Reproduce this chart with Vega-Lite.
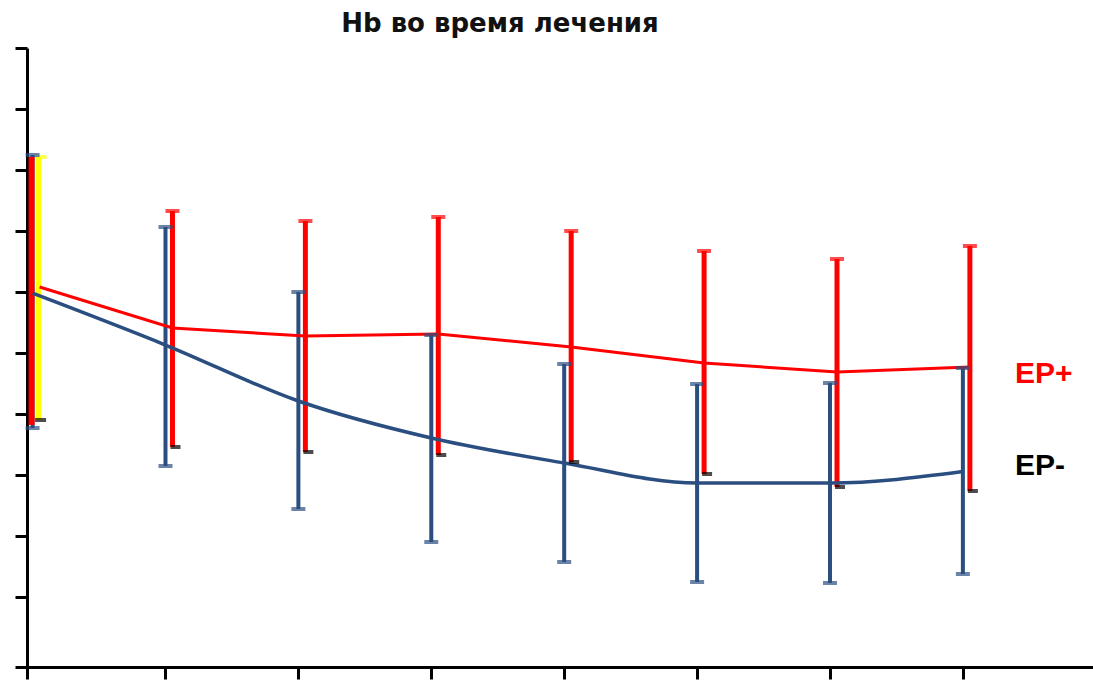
{
  "$schema": "https://vega.github.io/schema/vega-lite/v6.json",
  "width": 1066,
  "height": 619,
  "autosize": {"type": "none"},
  "padding": {"left": 27, "top": 48, "right": 0, "bottom": 13},
  "background": "white",
  "view": {"stroke": null},
  "title": {
    "text": "Hb во время лечения",
    "font": "DejaVu Sans",
    "fontSize": 26,
    "fontWeight": "bold",
    "color": "#111111",
    "anchor": "middle",
    "dx": -60,
    "baseline": "alphabetic",
    "offset": 17,
    "dy": 28
  },
  "config": {
    "axis": {
      "labels": false,
      "title": null,
      "grid": false,
      "domainColor": "black",
      "domainWidth": 3,
      "tickColor": "black",
      "tickWidth": 3,
      "tickSize": 12
    }
  },
  "datasets": {
    "blue": [
      {"t": 0, "mean": 4.98, "lo": 2.77, "hi": 7.246},
      {"t": 1, "mean": 4.131, "lo": 2.148, "hi": 6.066},
      {"t": 2, "mean": 3.213, "lo": 1.443, "hi": 5.0},
      {"t": 3, "mean": 2.607, "lo": 0.902, "hi": 4.295},
      {"t": 4, "mean": 2.197, "lo": 0.574, "hi": 3.82},
      {"t": 5, "mean": 1.869, "lo": 0.246, "hi": 3.492},
      {"t": 6, "mean": 1.869, "lo": 0.23, "hi": 3.508},
      {"t": 7, "mean": 2.057, "lo": 0.377, "hi": 3.754}
    ],
    "red": [
      {"t": 0, "mean": 5.082, "lo": 2.82, "hi": 7.213},
      {"t": 1, "mean": 4.41, "lo": 2.459, "hi": 6.328},
      {"t": 2, "mean": 4.279, "lo": 2.377, "hi": 6.164},
      {"t": 3, "mean": 4.311, "lo": 2.328, "hi": 6.23},
      {"t": 4, "mean": 4.098, "lo": 2.213, "hi": 6.0},
      {"t": 5, "mean": 3.836, "lo": 2.016, "hi": 5.672},
      {"t": 6, "mean": 3.689, "lo": 1.803, "hi": 5.541},
      {"t": 7, "mean": 3.77, "lo": 1.738, "hi": 5.754}
    ],
    "yellow": [
      {"t": 0, "lo": 2.902, "hi": 7.213}
    ],
    "labels": [
      {"t": 7, "label": "EP+", "series": "EP+", "v": 3.65},
      {"t": 7, "label": "EP-", "series": "EP-", "v": 2.15}
    ]
  },
  "layer": [
    {
      "data": {"name": "blue"},
      "mark": {"type": "rule", "color": "#2b4e80", "strokeWidth": 4},
      "encoding": {
        "x": {"field": "t", "type": "quantitative", "scale": {"domain": [-0.042, 7.979], "nice": false, "zero": false},
              "axis": {"values": [-0.042, 1, 2, 3, 4, 5, 6, 7]}},
        "y": {"field": "lo", "type": "quantitative", "scale": {"domain": [-1.1475, 9], "nice": false, "zero": false},
              "axis": {"values": [-1.1475, 0, 1, 2, 3, 4, 5, 6, 7, 8, 9]}},
        "y2": {"field": "hi"}
      }
    },
    {
      "data": {"name": "red"},
      "transform": [{"filter": "datum.t > 0"}],
      "mark": {"type": "rule", "color": "#ff0000", "strokeWidth": 5, "xOffset": 7},
      "encoding": {
        "x": {"field": "t", "type": "quantitative"},
        "y": {"field": "lo", "type": "quantitative"},
        "y2": {"field": "hi"}
      }
    },
    {
      "data": {"name": "red"},
      "transform": [{"filter": "datum.t == 0"}],
      "mark": {"type": "rule", "color": "#ff0000", "strokeWidth": 6, "xOffset": -1},
      "encoding": {
        "x": {"field": "t", "type": "quantitative"},
        "y": {"field": "lo", "type": "quantitative"},
        "y2": {"field": "hi"}
      }
    },
    {
      "data": {"name": "yellow"},
      "mark": {"type": "rule", "color": "#ffff00", "strokeWidth": 5, "xOffset": 6},
      "encoding": {
        "x": {"field": "t", "type": "quantitative"},
        "y": {"field": "lo", "type": "quantitative"},
        "y2": {"field": "hi"}
      }
    },
    {
      "data": {"name": "red"},
      "mark": {"type": "line", "color": "#ff0000", "strokeWidth": 3, "xOffset": 7},
      "encoding": {
        "x": {"field": "t", "type": "quantitative"},
        "y": {"field": "mean", "type": "quantitative"}
      }
    },
    {
      "data": {"name": "blue"},
      "mark": {"type": "line", "color": "#2b4e80", "strokeWidth": 3.5, "interpolate": "monotone"},
      "encoding": {
        "x": {"field": "t", "type": "quantitative"},
        "y": {"field": "mean", "type": "quantitative"}
      }
    },
    {
      "data": {"name": "red"},
      "transform": [{"filter": "datum.t > 0"}],
      "mark": {"type": "tick", "orient": "horizontal", "color": "#ff0000", "size": 14, "thickness": 4, "xOffset": 7},
      "encoding": {
        "x": {"field": "t", "type": "quantitative"},
        "y": {"field": "hi", "type": "quantitative"}
      }
    },
    {
      "data": {"name": "red"},
      "transform": [{"filter": "datum.t > 0"}],
      "mark": {"type": "tick", "orient": "horizontal", "color": "#000000", "size": 10, "thickness": 4, "xOffset": 10},
      "encoding": {
        "x": {"field": "t", "type": "quantitative"},
        "y": {"field": "lo", "type": "quantitative"}
      }
    },
    {
      "data": {"name": "yellow"},
      "mark": {"type": "tick", "orient": "horizontal", "color": "#000000", "size": 11, "thickness": 4, "xOffset": 8},
      "encoding": {
        "x": {"field": "t", "type": "quantitative"},
        "y": {"field": "lo", "type": "quantitative"}
      }
    },
    {
      "data": {"name": "yellow"},
      "mark": {"type": "tick", "orient": "horizontal", "color": "#ffff00", "size": 8, "thickness": 4, "xOffset": 10},
      "encoding": {
        "x": {"field": "t", "type": "quantitative"},
        "y": {"field": "hi", "type": "quantitative"}
      }
    },
    {
      "data": {"name": "blue"},
      "mark": {"type": "tick", "orient": "horizontal", "color": "#2b4e80", "size": 14, "thickness": 4},
      "encoding": {
        "x": {"field": "t", "type": "quantitative"},
        "y": {"field": "hi", "type": "quantitative"}
      }
    },
    {
      "data": {"name": "blue"},
      "mark": {"type": "tick", "orient": "horizontal", "color": "#2b4e80", "size": 14, "thickness": 4},
      "encoding": {
        "x": {"field": "t", "type": "quantitative"},
        "y": {"field": "lo", "type": "quantitative"}
      }
    },
    {
      "data": {"name": "labels"},
      "mark": {"type": "text", "font": "Liberation Sans", "fontSize": 30, "fontWeight": "bold", "align": "left", "baseline": "middle", "dx": 52},
      "encoding": {
        "x": {"field": "t", "type": "quantitative"},
        "y": {"field": "v", "type": "quantitative"},
        "text": {"field": "label"},
        "color": {"field": "series", "type": "nominal", "scale": {"domain": ["EP+", "EP-"], "range": ["#ff0000", "#000000"]}, "legend": null}
      }
    }
  ]
}
